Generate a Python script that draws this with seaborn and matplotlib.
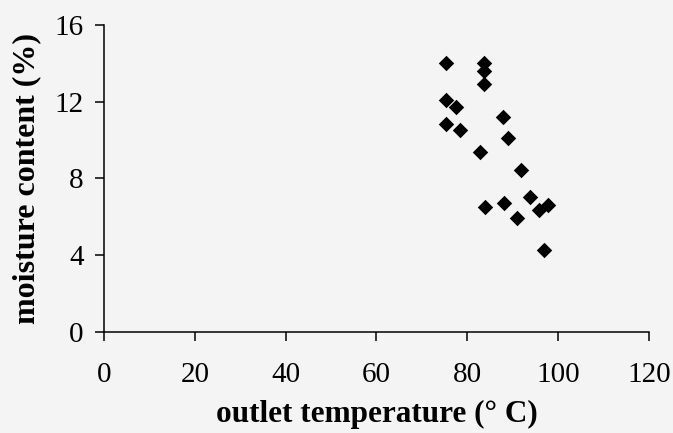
import matplotlib
matplotlib.use("Agg")
import matplotlib.pyplot as plt
import seaborn as sns
import pandas as pd

# data
outlet_temperature = [75.3, 83.6, 83.6, 83.6, 75.3, 77.5, 87.8, 75.3, 78.5, 88.9,
                      82.8, 91.9, 93.9, 83.8, 88.0, 91.0, 95.7, 97.8, 96.9]
moisture_content = [14.0, 14.0, 13.6, 12.9, 12.1, 11.7, 11.2, 10.85, 10.5, 10.1,
                    9.35, 8.45, 7.05, 6.5, 6.7, 5.95, 6.35, 6.6, 4.25]
x_ticks = [0, 20, 40, 60, 80, 100, 120]
y_ticks = [0, 4, 8, 12, 16]

df = pd.DataFrame({"outlet temperature": outlet_temperature,
                   "moisture content": moisture_content})

sns.set_style("ticks")
plt.rcParams["font.family"] = ["Liberation Serif", "DejaVu Serif"]
plt.rcParams["text.color"] = "black"
plt.rcParams["axes.labelcolor"] = "black"

fig = plt.figure(figsize=(6.73, 4.33), dpi=100)
bg = "#f4f4f4"
fig.patch.set_facecolor(bg)
ax = fig.add_axes([0.1545, 0.2339, 0.8098, 0.7084])
ax.set_facecolor(bg)

sns.scatterplot(data=df, x="outlet temperature", y="moisture content", ax=ax,
                marker="D", color="black", s=62, edgecolor="black", linewidth=0)

ax.set_xlim(0, 120)
ax.set_ylim(0, 16)
ax.set_xticks(x_ticks)
ax.set_yticks(y_ticks)
ax.tick_params(axis="both", direction="out", length=6.5, width=1.1,
               labelsize=21, colors="black")
ax.tick_params(axis="x", pad=15)
ax.tick_params(axis="y", pad=8)
for side in ["top", "right"]:
    ax.spines[side].set_visible(False)
for side in ["left", "bottom"]:
    ax.spines[side].set_linewidth(1.1)
    ax.spines[side].set_color("black")

ax.set_xlabel("outlet temperature (° C)", fontsize=22.5, fontweight="bold",
              labelpad=9, color="black")
ax.set_ylabel("moisture content (%)", fontsize=23, fontweight="bold",
              labelpad=10, color="black")

fig.savefig("out.png", dpi=100, facecolor=bg)
